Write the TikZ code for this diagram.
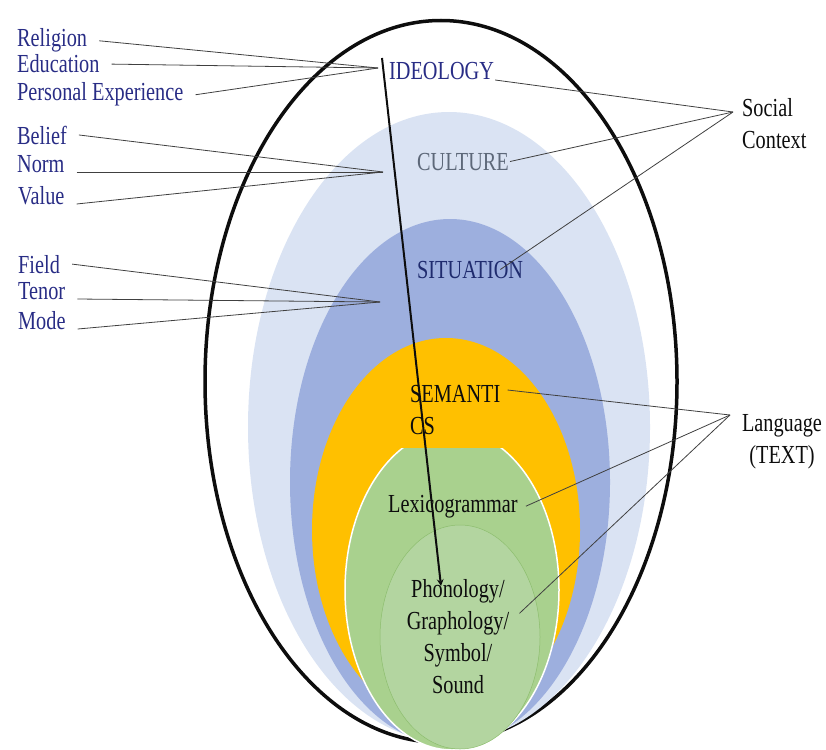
\documentclass[tikz,border=0pt]{standalone}
\usepackage{fontspec}
\setmainfont[FakeStretch=0.78]{Liberation Serif}
\usetikzlibrary{arrows.meta, positioning, calc}
\definecolor{mainBlack}{gray}{0.05}
\definecolor{linkGray}{gray}{0.25}
\definecolor{labelNavy}{HTML}{282C85}
\definecolor{situationNavy}{HTML}{1F2B6E}
\definecolor{cultureGray}{HTML}{5D6879}
\definecolor{cultureBlue}{HTML}{DAE3F3}
\definecolor{situationBlue}{HTML}{9DAFDE}
\definecolor{semanticsGold}{HTML}{FFC000}
\definecolor{lexisGreen}{HTML}{A9D18E}
\definecolor{soundGreen}{HTML}{B3D5A0}
\definecolor{soundEdge}{HTML}{8DBE6E}

\begin{document}
\begin{tikzpicture}[x=1pt, y=-1pt,
    every node/.style={font=\fontsize{26}{32}\selectfont},
    side/.style={anchor=base west, inner xsep=12pt, inner ysep=1pt, text=labelNavy},
    tag/.style={inner sep=1pt, text=mainBlack},
    link/.style={linkGray, line width=0.8pt}]
  \useasboundingbox (0,0) rectangle (826,749);

  % nested layers
  \draw[mainBlack, line width=3.5pt] (441,381.5) ellipse [x radius=236pt, y radius=361pt];
  \fill[cultureBlue] (449,427) ellipse [x radius=201pt, y radius=315pt];
  \fill[situationBlue] (450,482) ellipse [x radius=160pt, y radius=263pt];
  \fill[semanticsGold] (446,530) ellipse [x radius=134pt, y radius=192pt];
  \begin{scope}
    \clip (0,448) rectangle (826,760);
    \filldraw[fill=lexisGreen, draw=white, line width=1.5pt] (452,590) ellipse [x radius=107pt, y radius=160pt];
  \end{scope}
  \filldraw[fill=soundGreen, draw=soundEdge, line width=0.5pt] (460,637) ellipse [x radius=80pt, y radius=112pt];

  % left labels
  \node[side] (religion) at (5,47) {Religion};
  \node[side] (education) at (5,73) {Education};
  \node[side] (personal) at (5,101) {Personal Experience};
  \node[side] (belief) at (5,144) {Belief};
  \node[side] (norm) at (5,172) {Norm};
  \node[side] (value) at (6,204) {Value};
  \node[side] (field) at (6,273) {Field};
  \node[side] (tenor) at (6,299) {Tenor};
  \node[side] (mode) at (6,329) {Mode};

  % layer labels
  \node[tag, anchor=base west, text=labelNavy] (ideology) at (388,80) {IDEOLOGY};
  \node[tag, anchor=base west, text=cultureGray] (culture) at (416,170) {CULTURE};
  \node[tag, anchor=base west, text=situationNavy] (situation) at (416,278) {SITUATION};
  \node[tag, anchor=north west, align=left] (semantics) at (409,384) {SEMANTI\\CS};
  \node[tag, anchor=base west] (lexis) at (387,512) {Lexicogrammar};
  \node[tag, anchor=north, align=center] (sound) at (458,578) {Phonology/\\Graphology/\\Symbol/\\Sound};
  \node[tag, anchor=north west, align=left] (social) at (741,97) {Social\\Context};
  \node[tag, anchor=north, align=center] (language) at (782,413) {Language\\(TEXT)};

  \coordinate (ideoHub) at (378,68);
  \coordinate (cultureHub) at (383,172);
  \coordinate (situationHub) at (380,302);
  \coordinate (socialHub) at (733,112);
  \coordinate (languageHub) at (730,415);
  \coordinate (arrowTop) at (382,58);
  \coordinate (arrowTip) at (441,586);

  \foreach \name/\anc in {religion/east, education/east, personal/east}
    \draw[link] (\name.\anc) -- (ideoHub);
  \foreach \name/\anc in {belief/east, norm/base east, value/base east}
    \draw[link] (\name.\anc) -- (cultureHub);
  \foreach \name/\anc in {field/east, tenor/base east, mode/base east}
    \draw[link] (\name.\anc) -- (situationHub);

  \draw[link] (ideology.base east) -- (socialHub);
  \draw[link] (culture.east) -- (socialHub);
  \draw[link] ([xshift=-24pt]situation.east) -- (socialHub);
  \draw[link] ([shift={(6,6)}]semantics.north east) -- (languageHub);
  \draw[link] ([xshift=7pt]lexis.east) -- (languageHub);
  \draw[link] ([shift={(9,-23)}]sound.east) -- (languageHub);

  \draw[->, >=stealth, mainBlack, line width=2pt] (arrowTop) -- (arrowTip);
\end{tikzpicture}
\end{document}
